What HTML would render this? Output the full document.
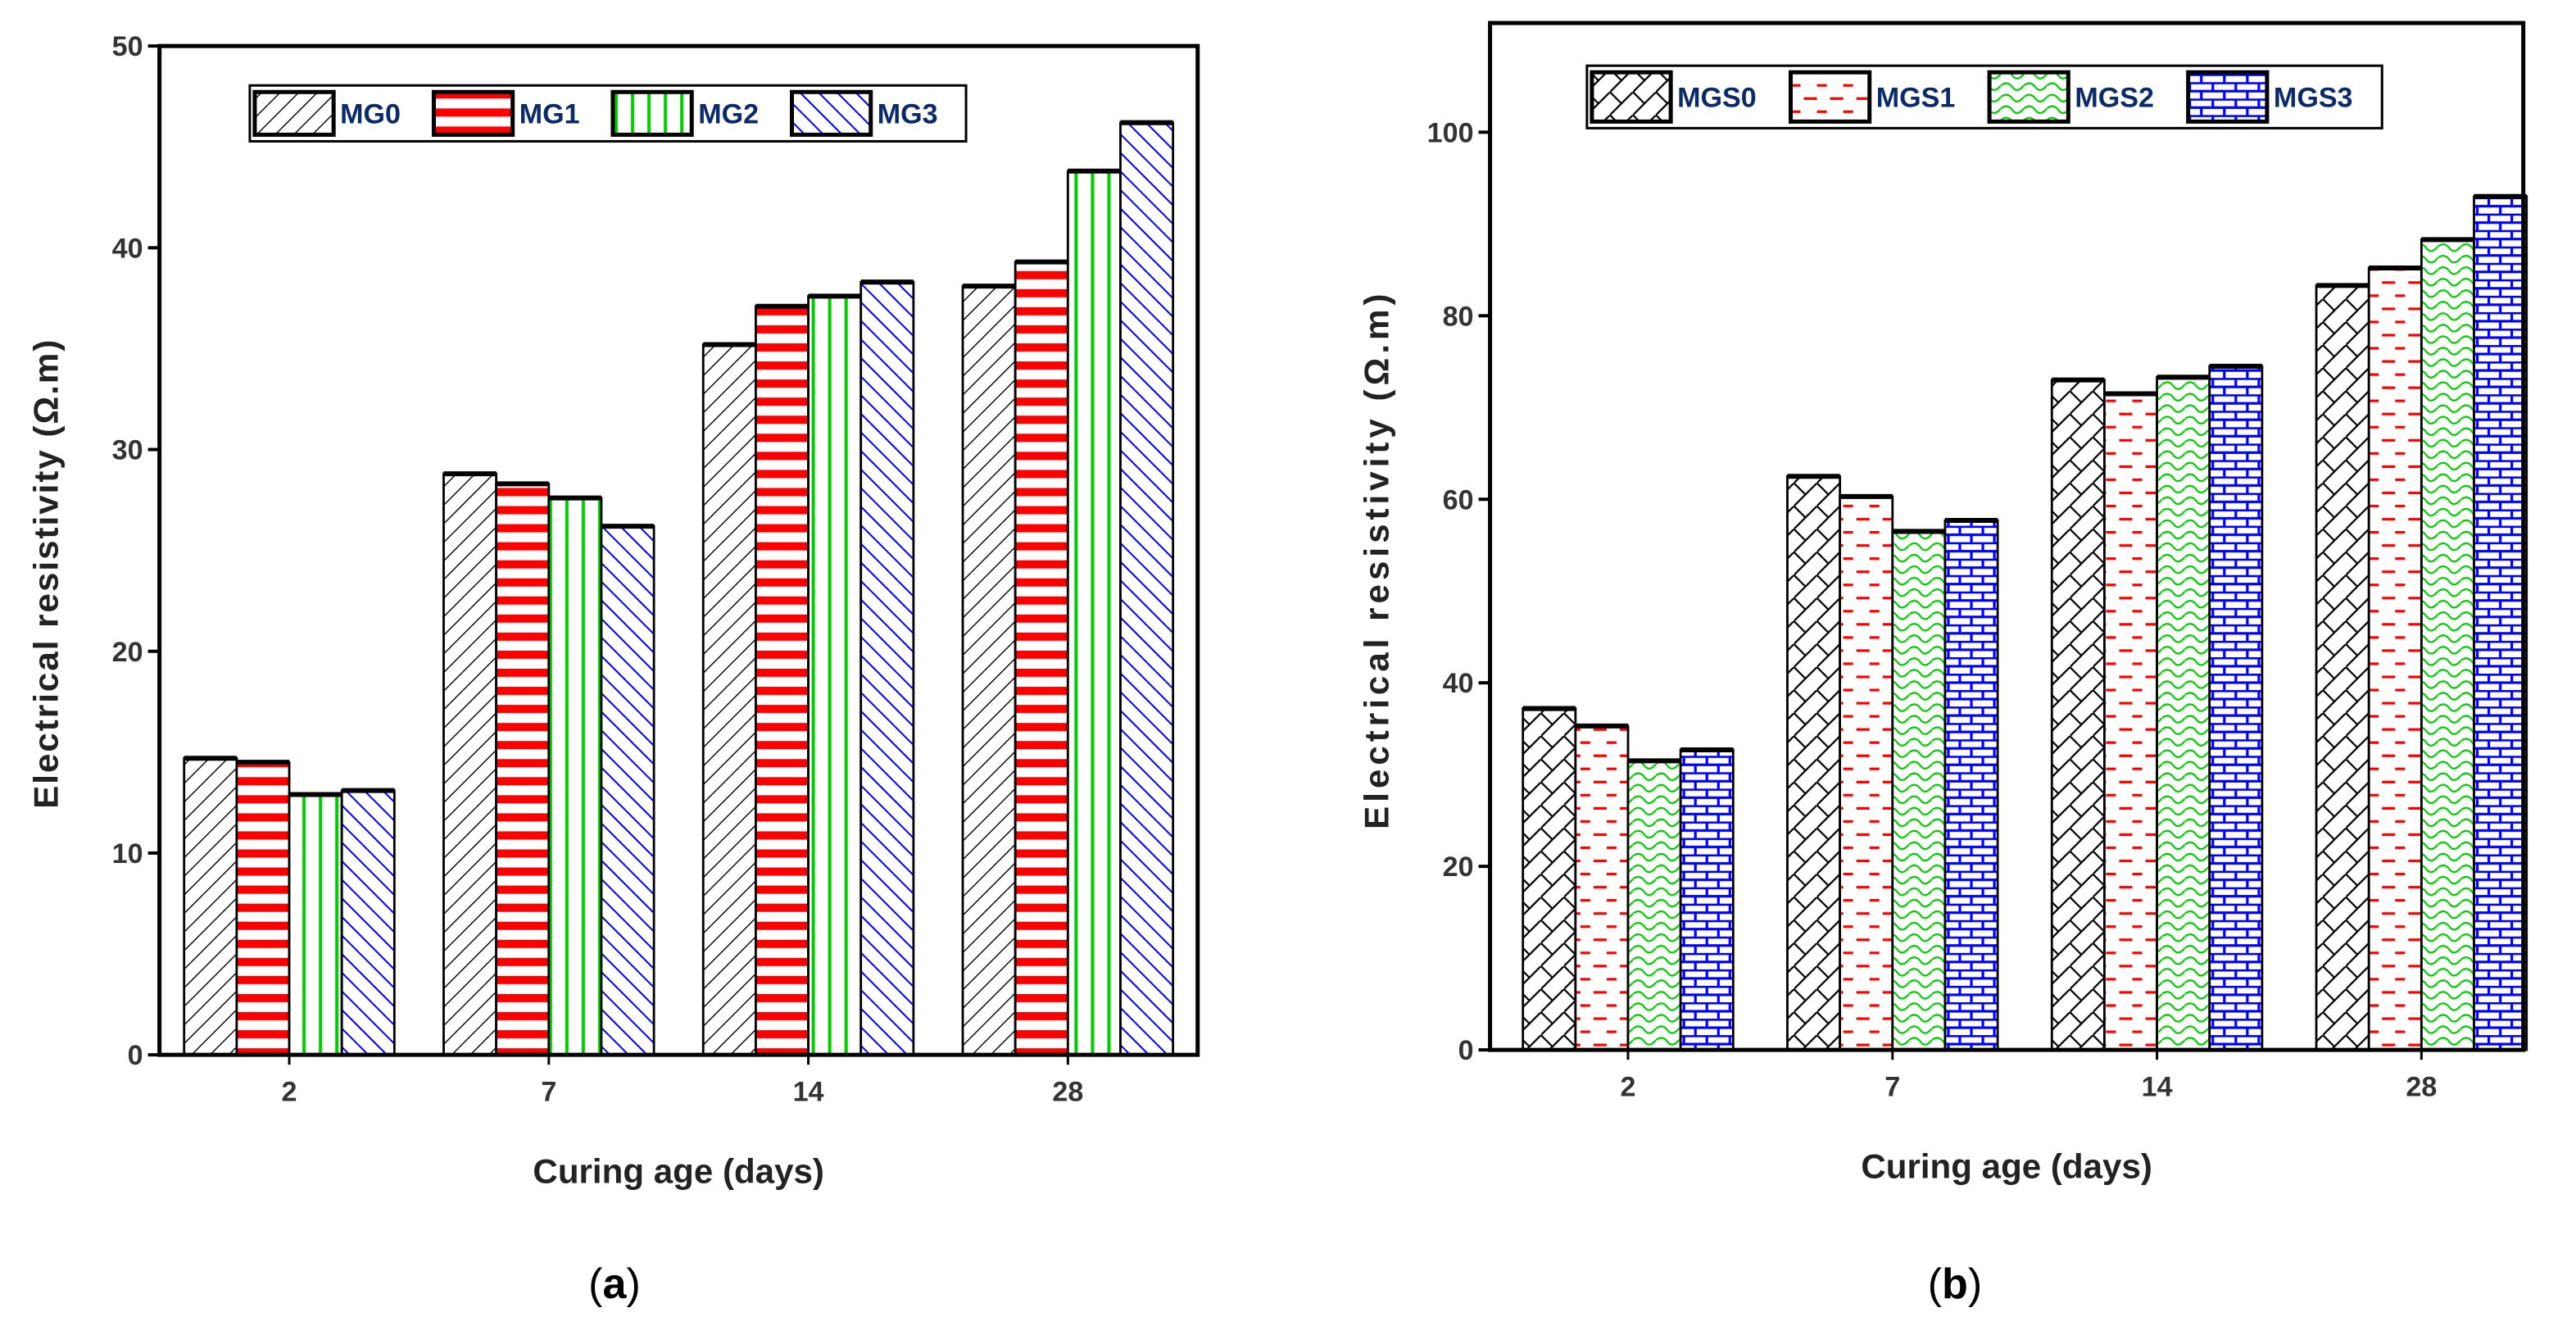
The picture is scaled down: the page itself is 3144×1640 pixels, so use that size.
<!DOCTYPE html>
<html><head><meta charset="utf-8"><style>
html,body{margin:0;padding:0;background:#fff;}
svg{display:block;}
text{font-family:"Liberation Sans",sans-serif;}
</style></head><body>
<svg id="fig" width="3144" height="1640" viewBox="0 0 1568 818" xmlns="http://www.w3.org/2000/svg">
<defs>
<pattern id="pA0" width="8" height="8" patternUnits="userSpaceOnUse" patternTransform="rotate(45)"><rect width="8" height="8" fill="#fff"/><line x1="0" y1="0" x2="0" y2="8" stroke="#000" stroke-width="1.4"/></pattern>
<pattern id="pA1" width="10" height="11" patternUnits="userSpaceOnUse"><rect width="10" height="11" fill="#fff"/><rect y="0" width="10" height="5" fill="#f00"/></pattern>
<pattern id="pA2" width="10" height="10" patternUnits="userSpaceOnUse"><rect width="10" height="10" fill="#fff"/><rect x="4" width="2" height="10" fill="#0c0"/></pattern>
<pattern id="pA3" width="8" height="8" patternUnits="userSpaceOnUse" patternTransform="rotate(-45)"><rect width="8" height="8" fill="#fff"/><line x1="0" y1="0" x2="0" y2="8" stroke="#00f" stroke-width="2"/></pattern>
<pattern id="pB0" width="14" height="14" patternUnits="userSpaceOnUse"><rect width="14" height="14" fill="#fff"/><path d="M0 14L14 0M0 0L7 7" stroke="#000" stroke-width="1.1"/></pattern>
<pattern id="pB1" width="16" height="16" patternUnits="userSpaceOnUse"><rect width="16" height="16" fill="#fff"/><line x1="2" y1="4" x2="8" y2="4" stroke="#f00" stroke-width="1.6"/><line x1="10" y1="12" x2="16" y2="12" stroke="#f00" stroke-width="1.6"/><line x1="0" y1="12" x2="2" y2="12" stroke="#f00" stroke-width="1.6"/></pattern>
<pattern id="pB2" width="14" height="14" patternUnits="userSpaceOnUse"><rect width="14" height="14" fill="#fff"/><path d="M0 3Q4 0 7 4T14 3M0 10Q4 7 7 11T14 10" fill="none" stroke="#0c0" stroke-width="1.1"/></pattern>
<pattern id="pB3" width="14" height="10" patternUnits="userSpaceOnUse"><rect width="14" height="10" fill="#fff"/><path d="M0 0.5H14M0 5.5H14M3 0V5M10 5V10" stroke="#00f" stroke-width="1.6"/></pattern>
</defs>
<g id="chartA"></g>
<g id="chartB"></g>
</svg>
<script>
const catsA = ["2","7","14","28"];
const mg0 = [14.7, 28.8, 35.2, 38.1];
const mg1 = [14.5, 28.3, 37.1, 39.3];
const mg2 = [12.9, 27.6, 37.6, 43.8];
const mg3 = [13.1, 26.2, 38.3, 46.2];
const namesA = ["MG0","MG1","MG2","MG3"];
const ticksA = [0,10,20,30,40,50];

const catsB = ["2","7","14","28"];
const mgs0 = [37.2, 62.5, 73.0, 83.3];
const mgs1 = [35.3, 60.3, 71.5, 85.2];
const mgs2 = [31.5, 56.5, 73.3, 88.3];
const mgs3 = [32.7, 57.7, 74.5, 93.0];
const namesB = ["MGS0","MGS1","MGS2","MGS3"];
const ticksB = [0,20,40,60,80,100];

const NS="http://www.w3.org/2000/svg";
function mk(parent,tag,attrs,txt){const e=document.createElementNS(NS,tag);for(const k in attrs)e.setAttribute(k,attrs[k]);if(txt!==undefined)e.textContent=txt;parent.appendChild(e);return e;}

function draw(g,cfg){
  const {L,R,T,B,ymax,cats,series,names,ticks,pats,start,step,leg,label,lx,key}=cfg;
  const y=v=>B-(v/ymax)*(B-T);
  const xc=i=>start+i*step;
  const bw=32;
  series.forEach((s,si)=>{
    s.forEach((v,i)=>{
      const x=xc(i)-2*bw+si*bw;
      const r=mk(g,'rect',{x:x,y:y(v),width:bw,height:B-y(v),fill:'url(#'+pats[si]+')',stroke:'#000','stroke-width':1.4});
      
      
      const t=mk(g,'line',{x1:x,x2:x+bw,y1:y(v),y2:y(v),stroke:'#000','stroke-width':3});
      
      
    });
  });
  const frame=mk(g,'rect',{x:L,y:T,width:R-L,height:B-T,fill:'none',stroke:'#000','stroke-width':2.5});
  
  
  ticks.forEach(t=>{
    mk(g,'line',{x1:L-7,x2:L,y1:y(t),y2:y(t),stroke:'#000','stroke-width':2});
    const tl=mk(g,'text',{x:L-10,y:y(t)+6,'text-anchor':'end','font-size':17,'font-weight':'bold',fill:'#333'},t);
    
    
  });
  cats.forEach((c,i)=>{
    mk(g,'line',{x1:xc(i),x2:xc(i),y1:B,y2:B+6,stroke:'#000','stroke-width':1.5});
    const tl=mk(g,'text',{x:xc(i),y:B+28,'text-anchor':'middle','font-size':17,'font-weight':'bold',fill:'#333'},c);
    
    
  });
  const xt=mk(g,'text',{x:(L+R)/2,y:B+78,'text-anchor':'middle','font-size':21,'font-weight':'bold',fill:'#222'},'Curing age (days)');
  
  
  const yt=mk(g,'text',{x:0,y:0,'text-anchor':'middle','font-size':21,'font-weight':'bold',fill:'#222','letter-spacing':key==='b'?2.5:1,transform:'translate('+(L-62)+','+((T+B)/2+14)+') rotate(-90)'},'Electrical resistivity (Ω.m)');
  
  
  const lg=mk(g,'g',{});
  
  
  mk(lg,'rect',{x:leg.x,y:leg.y,width:leg.w,height:leg.h,fill:'#fff',stroke:'#000','stroke-width':1.5});
  const ew=leg.w/4;
  names.forEach((n,si)=>{
    const ex=leg.x+3+si*ew;
    const e=mk(lg,'g',{});
    
    
    mk(e,'rect',{x:ex,y:leg.y+4,width:48,height:leg.h-8,fill:'url(#'+pats[si]+')',stroke:'#000','stroke-width':2.5});
    mk(e,'text',{x:ex+52,y:leg.y+leg.h/2+6,'font-size':17,'font-weight':'bold',fill:'#0a2a6a'},n);
  });
  const lb=mk(g,'text',{x:lx,y:790,'text-anchor':'middle','font-size':26,'font-family':'Liberation Serif, serif',fill:'#000'});
  
  
  mk(lb,'tspan',{},'(');
  mk(lb,'tspan',{'font-weight':'bold'},label);
  mk(lb,'tspan',{},')');
}
draw(document.getElementById('chartA'),{key:'a',L:97,R:729,T:28,B:642,ymax:50,cats:catsA,series:[mg0,mg1,mg2,mg3],names:namesA,ticks:ticksA,pats:['pA0','pA1','pA2','pA3'],start:176,step:158,leg:{x:152,y:52,w:436,h:34},label:'a',lx:374});
draw(document.getElementById('chartB'),{key:'b',L:907,R:1536,T:14,B:639,ymax:111.9,cats:catsB,series:[mgs0,mgs1,mgs2,mgs3],names:namesB,ticks:ticksB,pats:['pB0','pB1','pB2','pB3'],start:991,step:161,leg:{x:966,y:40,w:484,h:38},label:'b',lx:1190});
</script>
</body></html>
